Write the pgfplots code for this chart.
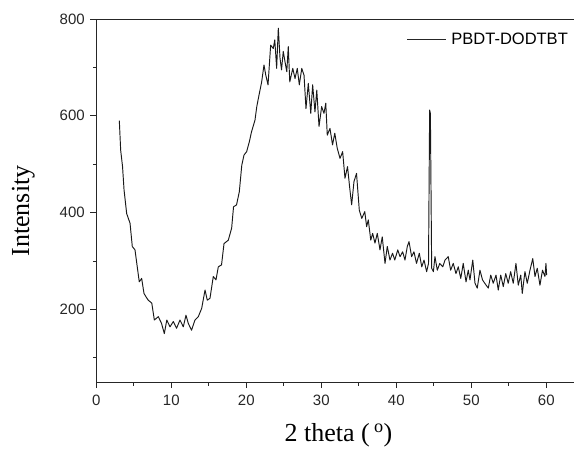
\documentclass[border=0pt]{standalone}
\usepackage{fontspec}
\setmainfont{Liberation Sans}
\newfontfamily\seriffont{Liberation Serif}
\usepackage{pgfplots}
\pgfplotsset{compat=1.18}
\begin{document}
\begin{tikzpicture}
\begin{axis}[
  scale only axis,
  width=477.7pt, height=363pt,
  xmin=0, xmax=63.7, ymin=50, ymax=800,
  axis x line*=box, axis y line*=left,
  axis line style={line width=0.8pt, color=black!85},
  xtick={0,10,...,60}, minor xtick={5,15,...,55},
  ytick={200,400,600,800}, minor ytick={100,300,500,700},
  tick style={line width=0.8pt, color=black!85},
  tick align=outside,
  major tick length=6pt, minor tick length=3.5pt,
  xtick pos=bottom, ytick pos=left,
  /pgf/number format/assume math mode=true,
  tick label style={font=\fontsize{15}{18}\selectfont, color=black!85},
  xticklabel style={yshift=-3pt},
  yticklabel style={xshift=-2pt},
  xlabel={2 theta (\,\textsuperscript{o})},
  ylabel={Intensity},
  xlabel style={font=\seriffont\fontsize{26}{30}\selectfont, at={(axis description cs:0.507,-0.146)}, anchor=center},
  ylabel style={font=\seriffont\fontsize{26}{30}\selectfont, at={(axis description cs:-0.153,0.471)}, anchor=center, rotate=0},
  legend style={draw=none, fill=none, at={(axis description cs:0.9875,0.9435)}, anchor=east,
    inner sep=0pt, font=\fontsize{16.5}{19}\selectfont, nodes={inner sep=0pt}},
  legend image code/.code={\draw[black!85, line width=0.7pt] (0pt,0pt) -- (39pt,0pt);},
  /tikz/every odd column/.append style={column sep=5pt},
]
\addplot[black!90, line width=0.95pt, line join=round] coordinates {
(3.07,590) (3.25,529) (3.5,495) (3.7,447) (4.05,398) (4.5,378) (4.8,330) (5.16,323) (5.4,295) (5.73,257) (6.05,264) (6.36,233) (6.63,226) (6.93,219) (7.4,213) (7.74,178) (8.27,185) (8.7,171) (9.07,150) (9.4,178) (9.83,164) (10.27,175) (10.7,161) (11.16,178) (11.6,164) (11.96,188) (12.27,171) (12.7,157) (13.16,178) (13.6,185) (14.05,202) (14.5,240) (14.8,219) (15.16,223) (15.6,268) (15.96,261) (16.27,288) (16.7,292) (17.03,336) (17.6,343) (18.05,368) (18.3,412) (18.7,416) (19.07,443) (19.4,498) (19.7,519) (20.05,526) (20.4,546) (20.7,567) (21.16,591) (21.4,619) (21.7,643) (22.05,670) (22.36,705) (22.6,684) (22.9,664) (23.25,746) (23.6,739) (23.8,757) (24.05,698) (24.27,781) (24.5,719) (24.7,695) (24.93,733) (25.16,712) (25.4,691) (25.6,743) (25.8,670) (26.2,698) (26.5,677) (26.8,698) (27.07,664) (27.4,698) (27.7,684) (27.96,615) (28.27,667) (28.6,605) (28.85,664) (29.16,608) (29.4,653) (29.7,578) (30.05,619) (30.36,605) (30.6,626) (30.8,560) (31.16,574) (31.5,540) (31.8,564) (32.13,533) (32.5,512) (32.85,526) (33.16,471) (33.5,495) (33.8,450) (34.05,416) (34.36,464) (34.7,481) (35.07,405) (35.4,388) (35.8,402) (36.05,371) (36.27,385) (36.6,343) (36.85,357) (37.16,337) (37.47,357) (37.83,323) (38.13,350) (38.5,295) (38.8,330) (39.16,302) (39.5,316) (39.8,302) (40.2,323) (40.5,309) (40.85,319) (41.16,302) (41.47,330) (41.7,340) (42.05,309) (42.36,319) (42.7,295) (43.07,316) (43.4,288) (43.7,302) (44.05,278) (44.3,295) (44.45,612) (44.55,605) (44.72,285) (44.95,278) (45.16,309) (45.47,281) (45.8,295) (46.2,288) (46.5,302) (46.93,309) (47.25,281) (47.6,295) (47.96,274) (48.27,288) (48.6,264) (48.93,295) (49.3,257) (49.6,281) (49.83,261) (50.2,302) (50.5,254) (50.8,244) (51.16,281) (51.5,261) (51.8,254) (52.27,244) (52.6,271) (52.93,254) (53.3,271) (53.6,240) (53.93,271) (54.27,247) (54.6,274) (54.93,254) (55.25,278) (55.6,254) (55.96,295) (56.27,250) (56.6,271) (56.8,233) (57.16,278) (57.47,254) (57.83,281) (58.2,305) (58.5,268) (58.8,285) (59.16,250) (59.5,281) (59.83,268) (59.96,295) (60.05,271)
};
\addlegendentry{PBDT-DODTBT}
\end{axis}
\pgfresetboundingbox
\path[use as bounding box] (current axis.south west) ++(-96.3pt,-66pt) rectangle ++(574pt,448pt);
\end{tikzpicture}
\end{document}
